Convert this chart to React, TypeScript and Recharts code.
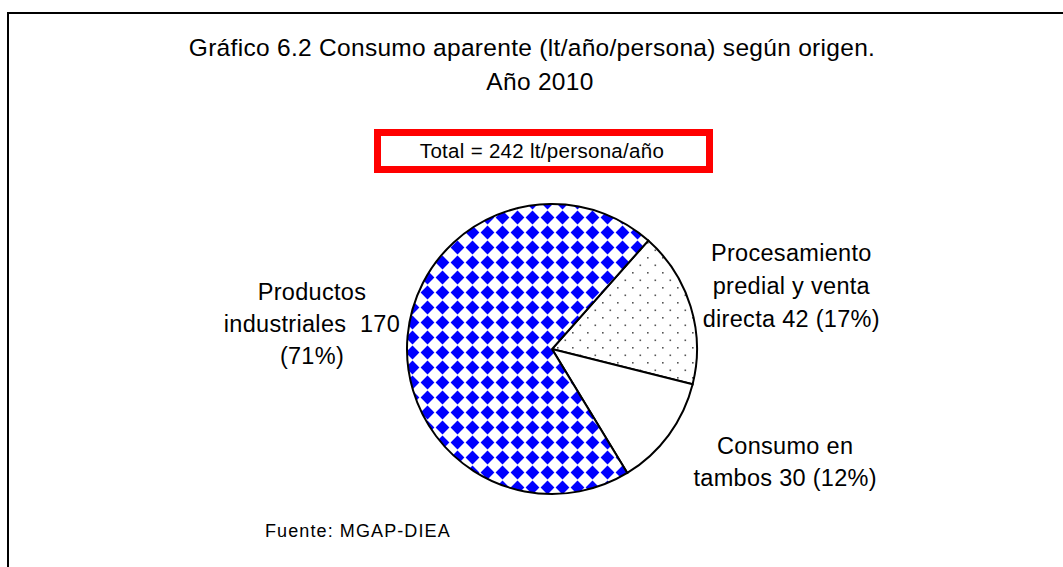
import React from 'react';
import { PieChart, Pie, Cell } from 'recharts';

const categories = ['Procesamiento predial y venta directa', 'Consumo en tambos', 'Productos industriales'];
const values = [42, 30, 170];
const percentLabels = ['17%', '12%', '71%'];
const labelLines = [
  ['Procesamiento', 'predial y venta', `directa ${values[0]} (${percentLabels[0]})`],
  ['Consumo en', `tambos ${values[1]} (${percentLabels[1]})`],
  ['Productos', `industriales  ${values[2]}`, `(${percentLabels[2]})`],
];
const titleLines = ['Gráfico 6.2 Consumo aparente (lt/año/persona) según origen.', 'Año 2010'];
const totalText = 'Total = 242 lt/persona/año';
const sourceText = 'Fuente: MGAP-DIEA';

const data = categories.map((name, i) => ({ name, value: values[i] }));

const FONT = '"Liberation Sans", Arial, Helvetica, sans-serif';
const FILLS = ['url(#dotsPattern)', '#ffffff', 'url(#diamondPattern)'];
// label placement nudges (layout only)
const NUDGE = [
  { dx: 10, dy: 8 },
  { dx: 40, dy: -29 },
  { dx: -1, dy: -3 },
];
const LINE_H = [33, 32, 32];
const RAD = Math.PI / 180;

const renderLabel = (props: any) => {
  const { cx, cy, midAngle, outerRadius, index } = props;
  const r = outerRadius + 95;
  const x = cx + r * Math.cos(-midAngle * RAD) + NUDGE[index].dx;
  const y = cy + r * Math.sin(-midAngle * RAD) + NUDGE[index].dy;
  const lines = labelLines[index];
  const lh = LINE_H[index];
  const y0 = y - ((lines.length - 1) * lh) / 2;
  return (
    <text
      key={`lbl-${index}`}
      x={x}
      y={y0}
      textAnchor="middle"
      dominantBaseline="central"
      fontFamily={FONT}
      fontSize={23.5}
      letterSpacing={0.3}
      fill="#000"
      style={{ whiteSpace: 'pre' }}
    >
      {lines.map((l, i) => (
        <tspan key={i} x={x} dy={i === 0 ? 0 : lh}>
          {l}
        </tspan>
      ))}
    </text>
  );
};

export default function App() {
  return (
    <div style={{ position: 'absolute', left: 0, top: 0, width: 1063, height: 567, overflow: 'hidden', background: '#fff' }}>
      <div
        style={{
          position: 'absolute',
          left: 7,
          top: 12,
          width: 1200,
          height: 700,
          border: '2px solid #000',
          boxSizing: 'border-box',
        }}
      />
      <div style={{ position: 'absolute', left: 0, top: 0 }}>
        <PieChart width={1063} height={567} margin={{ top: 0, right: 0, bottom: 0, left: 0 }}>
          <defs>
            <pattern id="diamondPattern" patternUnits="userSpaceOnUse" width={15} height={15} x={0} y={0}>
              <rect x={0} y={0} width={15} height={15} fill="#ffffff" />
              <polygon points="7.5,0.6 14.4,7.5 7.5,14.4 0.6,7.5" fill="#0000ff" />
            </pattern>
            <pattern id="dotsPattern" patternUnits="userSpaceOnUse" width={15} height={15} x={0} y={0}>
              <rect x={0} y={0} width={15} height={15} fill="#ffffff" />
              <rect x={2} y={2} width={1.6} height={1.6} fill="#555" />
              <rect x={9.5} y={9.5} width={1.6} height={1.6} fill="#555" />
            </pattern>
          </defs>
          <Pie
            data={data}
            dataKey="value"
            nameKey="name"
            cx={552}
            cy={349}
            outerRadius={145}
            startAngle={48.4}
            endAngle={-311.6}
            stroke="#000"
            strokeWidth={2}
            isAnimationActive={false}
            labelLine={false}
            label={renderLabel}
          >
            {data.map((d, i) => (
              <Cell key={d.name} fill={FILLS[i]} />
            ))}
          </Pie>
        </PieChart>
      </div>
      <svg width={1063} height={567} style={{ position: 'absolute', left: 0, top: 0, pointerEvents: 'none' }}>
        <text x={532} y={56} textAnchor="middle" fontFamily={FONT} fontSize={24.5} letterSpacing={0.3} fill="#000">
          {titleLines[0]}
        </text>
        <text x={540} y={90} textAnchor="middle" fontFamily={FONT} fontSize={24.5} letterSpacing={0.3} fill="#000">
          {titleLines[1]}
        </text>
        <rect x={377.5} y={132.5} width={332} height={37} fill="#fff" stroke="#ff0000" strokeWidth={7} />
        <text x={542} y={158} textAnchor="middle" fontFamily={FONT} fontSize={20.5} letterSpacing={0.3} fill="#000">
          {totalText}
        </text>
        <text x={265} y={537} textAnchor="start" fontFamily={FONT} fontSize={18} letterSpacing={1.1} fill="#000">
          {sourceText}
        </text>
      </svg>
    </div>
  );
}
